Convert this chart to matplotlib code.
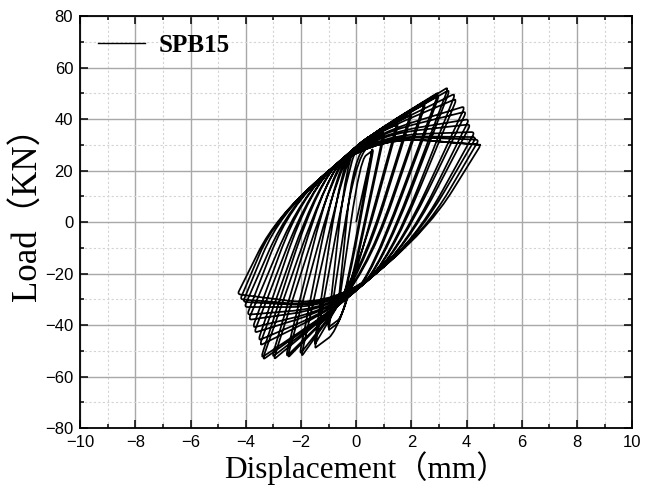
import matplotlib
matplotlib.use("Agg")
import matplotlib.pyplot as plt
from matplotlib.path import Path
from matplotlib.patches import PathPatch
from matplotlib.ticker import MultipleLocator

# Cyclic loading record of specimen SPB15 (displacement in mm, load in kN)
# Peak of every cycle on the push side and on the pull side
pos_disp = [0.60, 0.62, 1.00, 1.02, 1.50, 1.52, 2.00, 2.02, 2.50, 2.52, 3.00, 3.02,
            3.35, 3.40, 3.60, 3.65, 3.95, 4.00, 4.10, 4.15, 4.30, 4.35, 4.45, 4.52]
pos_load = [29.0, 28.0, 35.0, 34.0, 39.0, 38.0, 43.0, 42.0, 47.0, 46.0, 50.5, 49.5,
            52.5, 51.5, 50.0, 48.0, 45.0, 43.0, 40.0, 38.0, 35.0, 33.0, 32.0, 30.0]
neg_disp = [-0.60, -0.62, -1.00, -1.02, -1.50, -1.52, -2.00, -2.05, -2.50, -2.55, -3.00, -3.05,
            -3.40, -3.45, -3.50, -3.55, -3.70, -3.75, -3.90, -3.95, -4.05, -4.10, -4.20, -4.30]
neg_load = [-30.0, -29.0, -42.0, -41.0, -49.0, -48.0, -52.5, -51.5, -53.0, -52.5, -53.5, -52.5,
            -53.6, -52.8, -48.0, -46.0, -43.0, -41.0, -38.0, -36.0, -33.0, -31.0, -30.0, -28.0]
# Displacement at which each unloading / reloading branch crosses zero load
unload_zero = [0.10, 0.14, 0.30, 0.34, 0.50, 0.55, 0.75, 0.80, 1.00, 1.05, 1.25, 1.30,
               1.50, 1.55, 1.75, 1.80, 2.00, 2.05, 2.25, 2.30, 2.50, 2.55, 2.70, 2.78]
reload_zero = [-0.15, -0.19, -0.35, -0.40, -0.60, -0.65, -0.85, -0.90, -1.10, -1.15, -1.35, -1.40,
               -1.60, -1.65, -1.85, -1.90, -2.10, -2.15, -2.35, -2.40, -2.65, -2.70, -2.90, -3.00]

# Pinching points where the load ribs gather, and slopes of the pinched envelope
upper_pinch = (0.45, 33.5)
lower_pinch = (-0.7, -33.0)
upper_env_slope = 9.4
lower_env_slope = 9.2
short_rib_slope = 8.0

x_ticks = [-10, -8, -6, -4, -2, 0, 2, 4, 6, 8, 10]
y_ticks = [-80, -60, -40, -20, 0, 20, 40, 60, 80]


def meet(p, k1, q, k2):
    d = (q[1] - p[1] + k1 * p[0] - k2 * q[0]) / (k1 - k2)
    return (d, p[1] + k1 * (d - p[0]))


def branch_knees(start, end, zero, pinch, env_slope, upward):
    """Knee points of one branch: steep part through (zero, 0), then the rib."""
    k = -start[1] / (zero - start[0])
    z = (zero, 0.0)
    long_rib = (end[0] - pinch[0]) > 0.8 if upward else (pinch[0] - end[0]) > 0.8
    rib = (end[1] - pinch[1]) / (end[0] - pinch[0]) if long_rib else short_rib_slope
    c = meet(z, k, end, rib)
    env = pinch[1] + env_slope * (c[0] - pinch[0])
    outside = c[1] > env if upward else c[1] < env
    if long_rib and outside:
        a = meet(z, k, pinch, env_slope)
        return [(a, 0.45), (pinch, 0.5)]
    lo, hi = sorted([start[0], end[0]])
    if lo < c[0] < hi:
        return [(c, 0.45)]
    return []


# Build the whole load history as one polyline with rounded knees
points = [(0.0, 0.0)]
rounding = [0.0]
prev = (0.0, 0.0)
n = len(pos_disp)
for i in range(n):
    top = (pos_disp[i], pos_load[i])
    bot = (neg_disp[i], neg_load[i])
    if i > 0:
        for p, r in branch_knees(prev, top, reload_zero[i], upper_pinch, upper_env_slope, True):
            points.append(p)
            rounding.append(r)
    points.append(top)
    rounding.append(0.035)
    for p, r in branch_knees(top, bot, unload_zero[i], lower_pinch, lower_env_slope, False):
        points.append(p)
        rounding.append(r)
    points.append(bot)
    rounding.append(0.035)
    prev = bot

# Final reloading branch that closes the last loop
last_top = (pos_disp[-1], pos_load[-1])
for p, r in branch_knees(prev, last_top, reload_zero[-1], upper_pinch, upper_env_slope, True):
    points.append(p)
    rounding.append(r)
points.append(last_top)
rounding.append(0.0)

verts = [points[0]]
codes = [Path.MOVETO]
for j in range(1, len(points) - 1):
    p0, p1, p2 = points[j - 1], points[j], points[j + 1]
    r = rounding[j]
    e = (p1[0] + r * (p0[0] - p1[0]), p1[1] + r * (p0[1] - p1[1]))
    x = (p1[0] + r * (p2[0] - p1[0]), p1[1] + r * (p2[1] - p1[1]))
    verts += [e, p1, x]
    codes += [Path.LINETO, Path.CURVE3, Path.CURVE3]
verts.append(points[-1])
codes.append(Path.LINETO)

fig = plt.figure(figsize=(6.62, 4.87), dpi=100)
ax = fig.add_axes([0.121, 0.121, 0.834, 0.846])

ax.set_xlim(-10, 10)
ax.set_ylim(-80, 80)
ax.set_xticks(x_ticks)
ax.set_yticks(y_ticks)
ax.xaxis.set_minor_locator(MultipleLocator(1))
ax.yaxis.set_minor_locator(MultipleLocator(10))
ax.grid(which="major", color="#a8a8a8", lw=1.0, ls="-")
ax.grid(which="minor", color="#d4d4d4", lw=0.8, ls=(0, (2, 2)))
ax.set_axisbelow(True)

ax.add_patch(PathPatch(Path(verts, codes), fill=False, edgecolor="black",
                       lw=1.25, joinstyle="round", zorder=3))
ax.plot([], [], color="black", lw=1.0, label="SPB15")

for s in ax.spines.values():
    s.set_linewidth(1.3)
    s.set_color("black")
ax.tick_params(which="both", direction="in", top=True, right=True, width=1.1)
ax.tick_params(which="major", length=6, pad=5, labelsize=12)
ax.tick_params(which="minor", length=3)
ax.set_xticklabels([t.replace("-", "\u2212") for t in map(str, x_ticks)], family="Liberation Sans")
ax.set_yticklabels([t.replace("-", "\u2212") for t in map(str, y_ticks)], family="Liberation Sans")

label_font = ["Liberation Serif", "Noto Sans CJK SC"]
ax.set_xlabel("Displacement\uff08mm\uff09", family=label_font, fontsize=22.5, labelpad=1)
ax.set_ylabel("Load\uff08KN\uff09", family=label_font, fontsize=25, labelpad=0)
ax.xaxis.label.set_x(0.518)
ax.yaxis.label.set_y(0.54)

leg = ax.legend(loc="upper left", frameon=False, handlelength=1.9, handletextpad=0.55,
                borderaxespad=0.3, borderpad=0.4,
                prop={"family": "Liberation Serif", "weight": "bold", "size": 18})

fig.savefig("out.png", dpi=100)
